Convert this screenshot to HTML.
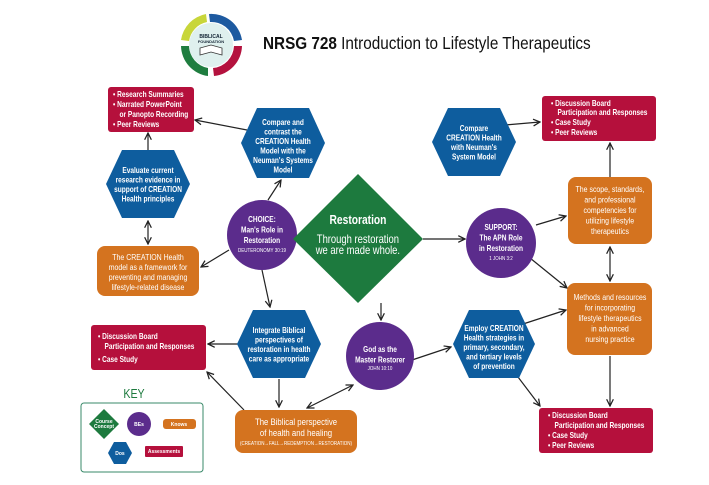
<!DOCTYPE html>
<html><head><meta charset="utf-8"><style>
html,body{margin:0;padding:0;background:#fff}
svg{display:block}
text{font-family:"Liberation Sans",sans-serif;font-weight:bold;fill:#fff}
.t{font-size:8px}
.s{font-size:5.5px;font-weight:normal}
.ln{stroke:#222;stroke-width:1.2;fill:none}
.c{transform-box:fill-box;transform-origin:center;transform:scaleX(0.82)}
.l{transform-box:fill-box;transform-origin:left center;transform:scaleX(0.82)}
.ti{transform-box:fill-box;transform-origin:left center;transform:scaleX(0.85)}
</style></head><body>
<svg width="709" height="485" viewBox="0 0 709 485" xmlns="http://www.w3.org/2000/svg">
<defs>
<marker id="a" viewBox="0 0 10 10" refX="9" refY="5" markerWidth="7" markerHeight="7" orient="auto-start-reverse"><path d="M1,1 L9,5 L1,9" fill="none" stroke="#222" stroke-width="1.5"/></marker>
</defs>
<!-- logo -->
<circle cx="211" cy="45" r="33" fill="#fff"/>
<path d="M181,40 A31,31 0 0 1 206,14 L207,22 A23,23 0 0 0 189,41 Z" fill="#c8d63a"/>
<path d="M209,14 A31,31 0 0 1 242,40 L234,41 A23,23 0 0 0 210,22 Z" fill="#1d5aa0"/>
<path d="M242,46 A31,31 0 0 1 214,76 L213,68 A23,23 0 0 0 234,46 Z" fill="#b4123e"/>
<path d="M208,76 A31,31 0 0 1 181,46 L189,46 A23,23 0 0 0 208,68 Z" fill="#1f7d3f"/>
<circle cx="211" cy="45" r="22" fill="#dff0ee"/>
<text x="211" y="38" text-anchor="middle" style="font-size:5px;fill:#123">BIBLICAL</text>
<text x="211" y="43" text-anchor="middle" style="font-size:4px;fill:#123">FOUNDATION</text>
<path d="M200,55 L211,52 L222,55 L222,48 L211,45 L200,48Z" fill="#fff" stroke="#333" stroke-width="0.8"/>
<text x="263" y="49" class="ti" style="font-size:18px;fill:#111">NRSG 728 <tspan font-weight="normal">Introduction to Lifestyle Therapeutics</tspan></text>

<!-- connectors -->
<line class="ln" x1="247" y1="130" x2="195" y2="120" marker-end="url(#a)"/>
<line class="ln" x1="148" y1="150" x2="148" y2="133" marker-end="url(#a)"/>
<line class="ln" x1="148" y1="221" x2="148" y2="244" marker-start="url(#a)" marker-end="url(#a)"/>
<line class="ln" x1="268" y1="200" x2="281" y2="180" marker-end="url(#a)"/>
<line class="ln" x1="229" y1="250" x2="201" y2="267" marker-end="url(#a)"/>
<line class="ln" x1="294" y1="238" x2="299" y2="238" marker-end="url(#a)"/>
<line class="ln" x1="262" y1="270" x2="270" y2="307" marker-end="url(#a)"/>
<line class="ln" x1="423" y1="239" x2="465" y2="239" marker-end="url(#a)"/>
<line class="ln" x1="381" y1="303" x2="381" y2="320" marker-end="url(#a)"/>
<line class="ln" x1="536" y1="225" x2="566" y2="216" marker-end="url(#a)"/>
<line class="ln" x1="530" y1="258" x2="567" y2="288" marker-end="url(#a)"/>
<line class="ln" x1="505" y1="125" x2="540" y2="122" marker-end="url(#a)"/>
<line class="ln" x1="610" y1="177" x2="610" y2="143" marker-end="url(#a)"/>
<line class="ln" x1="610" y1="247" x2="610" y2="281" marker-start="url(#a)" marker-end="url(#a)"/>
<line class="ln" x1="238" y1="344" x2="208" y2="344" marker-end="url(#a)"/>
<line class="ln" x1="279" y1="379" x2="279" y2="407" marker-end="url(#a)"/>
<line class="ln" x1="244" y1="410" x2="207" y2="372" marker-end="url(#a)"/>
<line class="ln" x1="307" y1="408" x2="353" y2="385" marker-start="url(#a)" marker-end="url(#a)"/>
<line class="ln" x1="412" y1="360" x2="451" y2="347" marker-end="url(#a)"/>
<line class="ln" x1="520" y1="325" x2="566" y2="310" marker-end="url(#a)"/>
<line class="ln" x1="518" y1="377" x2="540" y2="406" marker-end="url(#a)"/>
<line class="ln" x1="610" y1="356" x2="610" y2="406" marker-end="url(#a)"/>

<!-- red boxes -->
<rect x="108" y="87" width="86" height="45" rx="3" fill="#b5103c"/>
<text class="t l"><tspan x="113" y="97">•  Research Summaries</tspan><tspan x="113" y="107">•  Narrated PowerPoint</tspan><tspan x="121" y="117">or Panopto Recording</tspan><tspan x="113" y="127">•  Peer Reviews</tspan></text>
<rect x="542" y="96" width="114" height="45" rx="3" fill="#b5103c"/>
<text class="t l"><tspan x="551" y="106">•  Discussion Board</tspan><tspan x="559" y="115">Participation and Responses</tspan><tspan x="551" y="125">•  Case Study</tspan><tspan x="551" y="135">•  Peer Reviews</tspan></text>
<rect x="91" y="325" width="115" height="45" rx="3" fill="#b5103c"/>
<text class="t l"><tspan x="98" y="339">•  Discussion Board</tspan><tspan x="106" y="349">Participation and Responses</tspan><tspan x="98" y="362">•  Case Study</tspan></text>
<rect x="539" y="408" width="114" height="45" rx="3" fill="#b5103c"/>
<text class="t l"><tspan x="548" y="418">•  Discussion Board</tspan><tspan x="556" y="428">Participation and Responses</tspan><tspan x="548" y="438">•  Case Study</tspan><tspan x="548" y="448">•  Peer Reviews</tspan></text>

<!-- orange boxes -->
<g fill="#d4731f">
<rect x="97" y="246" width="102" height="50" rx="8"/>
<rect x="568" y="177" width="84" height="67" rx="8"/>
<rect x="567" y="283" width="85" height="72" rx="8"/>
<rect x="235" y="410" width="122" height="43" rx="8"/>
</g>
<g text-anchor="middle">
<text x="148" y="260" class="t c" style="font-weight:normal;font-size:8.5px"><tspan x="148">The CREATION Health</tspan><tspan x="148" dy="10">model as a framework for</tspan><tspan x="148" dy="10">preventing and managing</tspan><tspan x="148" dy="10">lifestyle-related disease</tspan></text>
<text x="610" y="192" class="t c" style="font-weight:normal;font-size:8.5px"><tspan x="610">The scope, standards,</tspan><tspan x="610" dy="10.5">and professional</tspan><tspan x="610" dy="10.5">competencies for</tspan><tspan x="610" dy="10.5">utilizing lifestyle</tspan><tspan x="610" dy="10.5">therapeutics</tspan></text>
<text x="610" y="300" class="t c" style="font-weight:normal;font-size:8.5px"><tspan x="610">Methods and resources</tspan><tspan x="610" dy="10.5">for incorporating</tspan><tspan x="610" dy="10.5">lifestyle therapeutics</tspan><tspan x="610" dy="10.5">in advanced</tspan><tspan x="610" dy="10.5">nursing practice</tspan></text>
<text x="296" y="425" class="c" style="font-size:9.5px;font-weight:normal"><tspan x="296">The Biblical perspective</tspan><tspan x="296" dy="11">of health and healing</tspan></text>
<text x="296" y="445" class="s c">(CREATION→FALL→REDEMPTION→RESTORATION)</text>
</g>

<!-- hexagons -->
<g fill="#0e5d9e">
<polygon points="241,143 257,108 309,108 325,143 309,178 257,178"/>
<polygon points="106,184 122,150 174,150 190,184 174,218 122,218"/>
<polygon points="432,142 448,108 500,108 516,142 500,176 448,176"/>
<polygon points="237,344 253,310 305,310 321,344 305,378 253,378"/>
<polygon points="453,344 469,310 519,310 535,344 519,378 469,378"/>
</g>
<g text-anchor="middle">
<text x="283" y="125" class="t c"><tspan x="283">Compare and</tspan><tspan x="283" dy="9.5">contrast the</tspan><tspan x="283" dy="9.5">CREATION Health</tspan><tspan x="283" dy="9.5">Model with the</tspan><tspan x="283" dy="9.5">Neuman's Systems</tspan><tspan x="283" dy="9.5">Model</tspan></text>
<text x="148" y="173" class="t c"><tspan x="148">Evaluate current</tspan><tspan x="148" dy="9.5">research evidence in</tspan><tspan x="148" dy="9.5">support of CREATION</tspan><tspan x="148" dy="9.5">Health principles</tspan></text>
<text x="474" y="131" class="t c"><tspan x="474">Compare</tspan><tspan x="474" dy="9.5">CREATION Health</tspan><tspan x="474" dy="9.5">with Neuman's</tspan><tspan x="474" dy="9.5">System Model</tspan></text>
<text x="279" y="333" class="t c"><tspan x="279">Integrate Biblical</tspan><tspan x="279" dy="9.5">perspectives of</tspan><tspan x="279" dy="9.5">restoration in health</tspan><tspan x="279" dy="9.5">care as appropriate</tspan></text>
<text x="494" y="331" class="t c"><tspan x="494">Employ CREATION</tspan><tspan x="494" dy="9.5">Health strategies in</tspan><tspan x="494" dy="9.5">primary, secondary,</tspan><tspan x="494" dy="9.5">and tertiary levels</tspan><tspan x="494" dy="9.5">of prevention</tspan></text>
</g>

<!-- circles -->
<g fill="#5b2c8c">
<circle cx="262" cy="235" r="35"/>
<circle cx="501" cy="243" r="35"/>
<circle cx="380" cy="356" r="34"/>
</g>
<g text-anchor="middle">
<text x="262" y="222" class="t c"><tspan x="262">CHOICE:</tspan><tspan x="262" dy="10.5">Man's Role in</tspan><tspan x="262" dy="10.5">Restoration</tspan></text>
<text x="262" y="252" class="s c">DEUTERONOMY 30:19</text>
<text x="501" y="230" class="t c"><tspan x="501">SUPPORT:</tspan><tspan x="501" dy="10.5">The APN Role</tspan><tspan x="501" dy="10.5">in Restoration</tspan></text>
<text x="501" y="260" class="s c">1 JOHN 3:2</text>
<text x="380" y="352" class="t c"><tspan x="380">God as the</tspan><tspan x="380" dy="10.5">Master Restorer</tspan></text>
<text x="380" y="370" class="s c">JOHN 10:10</text>
</g>

<!-- diamond -->
<polygon points="358,174 423,239 358,303 293,239" fill="#1d7a3e"/>
<g text-anchor="middle">
<text x="358" y="224" class="c" style="font-size:12.5px">Restoration</text>
<text x="358" y="243" class="c" style="font-size:11.5px;font-weight:normal"><tspan x="358">Through restoration</tspan><tspan x="358" dy="11">we are made whole.</tspan></text>
</g>

<!-- key -->
<text x="134" y="398" text-anchor="middle" class="c" style="font-size:13px;fill:#1d7a3e;font-weight:normal">KEY</text>
<rect x="81" y="403" width="122" height="69" rx="3" fill="#fff" stroke="#3a8a6a" stroke-width="1"/>
<polygon points="104,409 119,424 104,439 89,424" fill="#1d7a3e"/>
<text x="104" y="423" text-anchor="middle" style="font-size:5px"><tspan x="104">Course</tspan><tspan x="104" dy="5">Concept</tspan></text>
<circle cx="139" cy="424" r="12" fill="#5b2c8c"/>
<text x="139" y="426" text-anchor="middle" style="font-size:5px">BEs</text>
<rect x="163" y="419" width="33" height="10" rx="3" fill="#d4731f"/>
<text x="179" y="426" text-anchor="middle" style="font-size:5px">Knows</text>
<polygon points="108,453 114,442 126,442 132,453 126,464 114,464" fill="#0e5d9e"/>
<text x="120" y="455" text-anchor="middle" style="font-size:5px">Dos</text>
<rect x="145" y="446" width="38" height="11" rx="1" fill="#b5103c"/>
<text x="164" y="453" text-anchor="middle" style="font-size:5px">Assessments</text>
</svg>
</body></html>
